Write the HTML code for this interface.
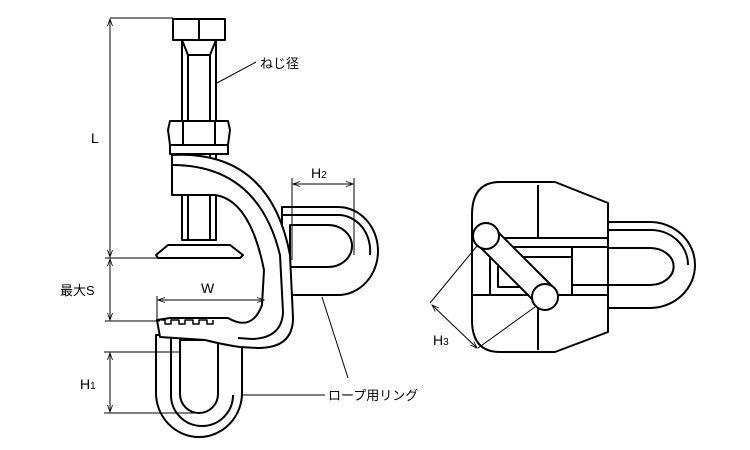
<!DOCTYPE html>
<html><head><meta charset="utf-8"><style>
html,body{margin:0;padding:0;background:#fff;width:750px;height:450px;overflow:hidden}
svg{display:block}
text{font-family:"Liberation Sans","Noto Sans CJK JP",sans-serif;fill:#000}
</style></head><body>
<svg width="750" height="450" viewBox="0 0 750 450" xmlns="http://www.w3.org/2000/svg">
<defs><marker id="a" markerWidth="8" markerHeight="6" refX="7" refY="3" orient="auto-start-reverse"><path d="M0,0.5 L7,3 L0,5.5" fill="none" stroke="#000" stroke-width="0.8"/></marker></defs>
<g fill="#fff" stroke="#000" stroke-width="2" stroke-linejoin="round">
<!-- right ring (behind) -->
<path d="M282,207 L338,207 A40,44 0 0 1 338,295 L282,295 Z"/>
<path d="M282,215 L338,215 A32,36 0 0 1 370,255" fill="none"/>
<path d="M290,225 L328,225 A24,21 0 0 1 328,267 L290,267 Z"/>
<!-- lower ring -->
<path d="M156,335 L156,393 A43,44 0 0 0 242,393 L242,335 Z"/>
<path d="M171,335 L171,395 A31,31 0 0 0 233,395" fill="none"/>
<path d="M180,340 L180,394 A19,19 0 0 0 218,394 L218,340 Z"/>
<!-- shank -->
<rect x="182" y="40" width="34" height="200"/>
<line x1="188" y1="55" x2="188" y2="240"/><line x1="210" y1="55" x2="210" y2="240"/>
<path d="M182,40 L188,55 L210,55 L216,40"/>
<!-- foot -->
<path d="M168,245 L230,245 L243,255 L240,258 L158,258 L156,255 Z"/>
<!-- C frame -->
<path d="M172,155 Q270,150 290,255 L293,318 Q293,348 258,348 L240,347 Q225,345 205,340 L160,337 L157,320 L170,318 L228,318 Q252,332 262,305 L264,270 Q250,200 215,195 L172,195 Z"/>
<path d="M172,165 Q258,165 280,255 L283,312 Q282,338 252,339 L238,338" fill="none"/>
<path d="M161,320 l4,0 l0,4 l6,0 l0,-4 l8,0 l0,4 l6,0 l0,-4 l8,0 l0,4 l6,0 l0,-4 l8,0 l0,4 l6,0 l0,-4" fill="none" stroke-width="1.5"/>
<!-- nut & washer -->
<rect x="170" y="145" width="58" height="9"/>
<path d="M170,121 L228,121 L230,130 L228,145 L170,145 L168,130 Z"/>
<line x1="183" y1="121" x2="183" y2="145"/><line x1="215" y1="121" x2="215" y2="145"/>
<!-- bolt head -->
<rect x="173" y="19" width="52" height="21"/>
<line x1="199" y1="19" x2="199" y2="40"/>
<!-- side view -->
<path d="M600,222 L650,222 A45,43 0 0 1 650,308 L600,308 Z"/>
<path d="M600,230 L650,230 A37,35 0 0 1 688,265" fill="none"/>
<path d="M600,248 L650,248 A23,18 0 0 1 650,285 L600,285 Z"/>
<path d="M500,182 L555,182 L608,203 L608,332 L555,352 L500,352 Q472,352 472,320 L472,215 Q472,182 500,182 Z"/>
<line x1="538" y1="185" x2="538" y2="238"/><line x1="538" y1="300" x2="538" y2="350"/>
<rect x="493" y="238" width="115" height="9"/><rect x="493" y="285" width="115" height="10"/>
<line x1="473" y1="295" x2="493" y2="295"/>
<rect x="490" y="257" width="82" height="38"/>
<path d="M498,266 L498,287 L522,287" fill="none"/>
<line x1="572" y1="247" x2="572" y2="285"/>
<path d="M478,245 L495,229 L554,288 L537,304 Z"/>
<circle cx="486" cy="236" r="13"/><circle cx="545" cy="297" r="13"/>
</g>
<g stroke="#000" stroke-width="1" fill="none">
<line x1="110" y1="18" x2="173" y2="18"/>
<line x1="110" y1="19" x2="110" y2="257" marker-start="url(#a)" marker-end="url(#a)"/>
<line x1="105" y1="258" x2="170" y2="258"/>
<line x1="110" y1="259" x2="110" y2="320" marker-start="url(#a)" marker-end="url(#a)"/>
<line x1="105" y1="321" x2="160" y2="321"/>
<line x1="157" y1="296" x2="157" y2="320"/>
<line x1="158" y1="300" x2="264" y2="300" marker-start="url(#a)" marker-end="url(#a)"/>
<line x1="292" y1="178" x2="292" y2="260"/><line x1="354" y1="178" x2="354" y2="255"/>
<line x1="293" y1="184" x2="353" y2="184" marker-start="url(#a)" marker-end="url(#a)"/>
<line x1="104" y1="352" x2="180" y2="352"/><line x1="104" y1="413" x2="200" y2="413"/>
<line x1="110" y1="353" x2="110" y2="412" marker-start="url(#a)" marker-end="url(#a)"/>
<line x1="217" y1="83" x2="256" y2="62"/>
<line x1="242" y1="395" x2="325" y2="395"/>
<line x1="322" y1="297" x2="348" y2="378"/>
<line x1="477" y1="246" x2="430" y2="303"/><line x1="535" y1="307" x2="478" y2="348"/>
<line x1="432" y1="305" x2="477" y2="348" marker-start="url(#a)" marker-end="url(#a)"/>
</g>
<text x="91" y="143" font-size="14">L</text>
<text x="60" y="295" font-size="13">最大S</text>
<text x="201" y="293" font-size="14">W</text>
<text x="311" y="178" font-size="14">H<tspan font-size="10">2</tspan></text>
<text x="80" y="389" font-size="14">H<tspan font-size="10">1</tspan></text>
<text x="433" y="345" font-size="14">H<tspan font-size="10">3</tspan></text>
<text x="260" y="68" font-size="13">ねじ径</text>
<text x="328" y="400" font-size="13">ロープ用リング</text>
</svg>
</body></html>
